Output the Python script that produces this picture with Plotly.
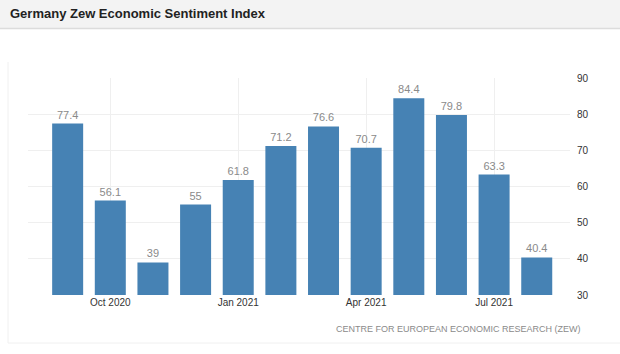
import plotly.graph_objects as go

months = ["Sep 2020", "Oct 2020", "Nov 2020", "Dec 2020", "Jan 2021", "Feb 2021",
          "Mar 2021", "Apr 2021", "May 2021", "Jun 2021", "Jul 2021", "Aug 2021"]
values = [77.4, 56.1, 39, 55, 61.8, 71.2, 76.6, 70.7, 84.4, 79.8, 63.3, 40.4]
labels = ["77.4", "56.1", "39", "55", "61.8", "71.2", "76.6", "70.7", "84.4", "79.8", "63.3", "40.4"]
tick_months = ["Oct 2020", "Jan 2021", "Apr 2021", "Jul 2021"]
y_ticks = [30, 40, 50, 60, 70, 80, 90]

W, H = 620, 354
L, R, T, B = 28, 50, 78, 59
pw, ph = W - L - R, H - T - B

def px(x):
    return (x - L) / pw

def py(y):
    return (H - B - y) / ph

FONT = "Liberation Sans, Arial, sans-serif"

fig = go.Figure(go.Bar(
    x=months, y=values, text=labels, textposition="outside",
    textfont=dict(family=FONT, size=11, color="#8a8a8a"),
    marker=dict(color="#4682b4", line=dict(width=0)),
    cliponaxis=False, hoverinfo="skip",
))

shapes = [
    # header band
    dict(type="rect", xref="paper", yref="paper", x0=px(0), x1=px(W), y0=py(0), y1=py(28),
         fillcolor="#f3f3f3", line=dict(width=0), layer="below"),
    dict(type="line", xref="paper", yref="paper", x0=px(0), x1=px(W), y0=py(28.5), y1=py(28.5),
         line=dict(color="#dcdcdc", width=1.5)),
    # panel border
    dict(type="line", xref="paper", yref="paper", x0=px(8), x1=px(8), y0=py(62), y1=py(343),
         line=dict(color="#f0f0f0", width=1)),
    dict(type="line", xref="paper", yref="paper", x0=px(8), x1=px(W), y0=py(343), y1=py(343),
         line=dict(color="#f0f0f0", width=1)),
]

annotations = [
    dict(text="<b>Germany Zew Economic Sentiment Index</b>", xref="paper", yref="paper",
         x=px(8), y=py(14), xanchor="left", yanchor="middle", showarrow=False,
         font=dict(family=FONT, size=13, color="#222222")),
    dict(text="CENTRE FOR EUROPEAN ECONOMIC RESEARCH (ZEW)", xref="paper", yref="paper",
         x=px(583), y=py(329), xanchor="right", yanchor="middle", showarrow=False,
         font=dict(family=FONT, size=9, color="#8a8a8a")),
]

fig.update_layout(
    width=W, height=H, margin=dict(l=L, r=R, t=T, b=B),
    paper_bgcolor="white", plot_bgcolor="white",
    showlegend=False, bargap=0.273,
    shapes=shapes, annotations=annotations,
    xaxis=dict(type="category", range=[-0.93, 11.78], tickmode="array",
               tickvals=tick_months, ticktext=tick_months,
               showgrid=True, gridcolor="#efefef", gridwidth=1,
               showline=False, zeroline=False, ticks="",
               tickfont=dict(family=FONT, size=10, color="#333333")),
    yaxis=dict(side="right", range=[30, 90], tickvals=y_ticks,
               showgrid=True, gridcolor="#efefef", gridwidth=1,
               showline=False, zeroline=False, ticks="", ticklabelstandoff=6,
               tickfont=dict(family=FONT, size=10, color="#333333")),
)

fig.write_html("out.html")
